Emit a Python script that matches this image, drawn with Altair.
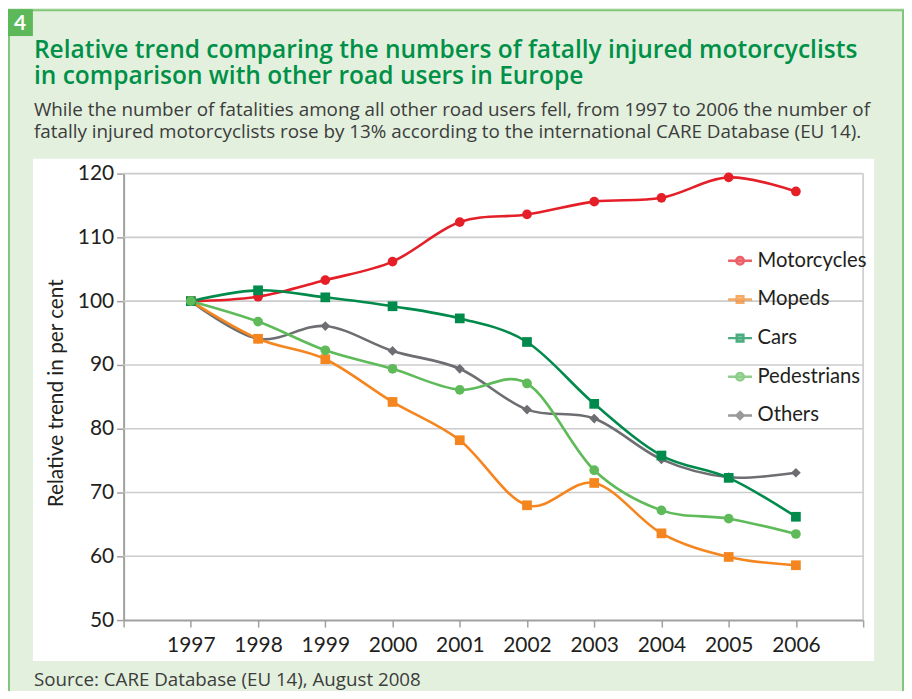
import altair as alt
import pandas as pd

# ---------------- data ----------------
years = [1997, 1998, 1999, 2000, 2001, 2002, 2003, 2004, 2005, 2006]
series_names = ["Motorcycles", "Mopeds", "Cars", "Pedestrians", "Others"]
motorcycles = [100, 100.7, 103.3, 106.2, 112.4, 113.6, 115.6, 116.2, 119.4, 117.2]
mopeds = [100, 94.1, 90.9, 84.2, 78.2, 68.0, 71.5, 63.6, 59.9, 58.6]
cars = [100, 101.7, 100.6, 99.2, 97.3, 93.6, 83.9, 75.8, 72.3, 66.2]
pedestrians = [100, 96.8, 92.3, 89.4, 86.1, 87.1, 73.5, 67.2, 65.9, 63.5]
others = [100, 94.1, 96.1, 92.2, 89.4, 83.0, 81.6, 75.2, 72.4, 73.1]
y_ticks = [50, 60, 70, 80, 90, 100, 110, 120]
x_ticks = list(range(1996, 2008))

title_lines = ["Relative trend comparing the numbers of fatally injured motorcyclists",
               "in comparison with other road users in Europe"]
subtitle_lines = ["While the number of fatalities among all other road users fell, from 1997 to 2006 the number of",
                  "fatally injured motorcyclists rose by 13% according to the international CARE Database (EU 14)."]
source_text = "Source: CARE Database (EU 14), August 2008"
badge_text = "4"
y_title = "Relative trend in per cent"

# ---------------- styles ----------------
colors = ["#e41f28", "#f5861f", "#008a4b", "#5fba59", "#6d6e72"]
shapes = ["circle", "square", "square", "circle", "diamond"]
sizes = [95, 95, 100, 95, 70]
legend_paths = [
    "M-1,0L1,0M0.32,0A0.32,0.32,0,1,1,-0.32,0A0.32,0.32,0,1,1,0.32,0Z",
    "M-1,0L1,0M-0.28,-0.28L0.28,-0.28L0.28,0.28L-0.28,0.28Z",
    "M-1,0L1,0M-0.28,-0.28L0.28,-0.28L0.28,0.28L-0.28,0.28Z",
    "M-1,0L1,0M0.32,0A0.32,0.32,0,1,1,-0.32,0A0.32,0.32,0,1,1,0.32,0Z",
    "M-1,0L1,0M0,-0.3L0.3,0L0,0.3L-0.3,0Z",
]
FONT = "Lato"
HFONT = "Open Sans"
GREEN_BG = "#e3f0de"
TEXT = "#231f20"

values = {"Motorcycles": motorcycles, "Mopeds": mopeds, "Cars": cars,
          "Pedestrians": pedestrians, "Others": others}
draw_order = ["Others", "Motorcycles", "Mopeds", "Cars", "Pedestrians"]
rows = []
for s in draw_order:
    for yr, v in zip(years, values[s]):
        rows.append({"Year": yr, "Value": v, "Series": s})
df = pd.DataFrame(rows)

W, H = 742, 448

xscale = alt.Scale(domain=[1996, 2007], nice=False, zero=False)
yscale = alt.Scale(domain=[50, 120], nice=False, zero=False)

x_axis = alt.Axis(values=x_ticks, format="d",
                  labelExpr="(datum.value < 1997 || datum.value > 2006) ? '' : datum.label",
                  grid=False, labelPadding=8)
y_axis = alt.Axis(values=y_ticks, grid=False, labelPadding=3,
                  titleX=-61, titleY=H / 2 - 4, titleAngle=270,
                  titleAlign="center", titleBaseline="alphabetic",
                  titleFontSize=20.8, titleFont=FONT, titleColor=TEXT,
                  titleFontWeight="normal")
x_enc = alt.X("Year:Q", scale=xscale, title=None, axis=x_axis)
y_enc = alt.Y("Value:Q", scale=yscale, title=y_title, axis=y_axis)

color_enc = alt.Color("Series:N", scale=alt.Scale(domain=series_names, range=colors), legend=None)

one = pd.DataFrame({"k": [0]})


def plain_rect(x1, x2, y1, y2, fill=GREEN_BG):
    return alt.Chart(one).mark_rect(fill=fill).encode(
        x=alt.value(x1), x2=alt.value(x2), y=alt.value(y1), y2=alt.value(y2))


# green surround of the white panel (chart background is white)
g_top = plain_rect(-120, 800, -170, -15)
g_bottom = plain_rect(-120, 800, 489, 600)
g_left = plain_rect(-120, -91, -20, 495)
g_right = plain_rect(753, 800, -20, 495)
frame = alt.Chart(one).mark_rect(fill=None, fillOpacity=0, stroke="#80c77b", strokeWidth=2).encode(
    x=alt.value(-115), x2=alt.value(782), y=alt.value(-164), y2=alt.value(560))
badge = plain_rect(-116, -91, -165, -138, fill="#5db85a")
badge_t = alt.Chart(one).mark_text(text=badge_text, font=FONT, fontSize=21, fontWeight="bold",
                                   color="white", align="center", baseline="alphabetic").encode(
    x=alt.value(-104), y=alt.value(-144))

t1 = alt.Chart(one).mark_text(text=title_lines[0], font=HFONT, fontSize=24.6, fontWeight=600,
                              color="#009048", align="left", baseline="alphabetic").encode(
    x=alt.value(-90), y=alt.value(-116))
t2 = alt.Chart(one).mark_text(text=title_lines[1], font=HFONT, fontSize=24.6, fontWeight=600,
                              color="#009048", align="left", baseline="alphabetic").encode(
    x=alt.value(-90), y=alt.value(-90))
s1 = alt.Chart(one).mark_text(text=subtitle_lines[0], font=HFONT, fontSize=18.9,
                              color="#3c3c3c", align="left", baseline="alphabetic").encode(
    x=alt.value(-90), y=alt.value(-58))
s2 = alt.Chart(one).mark_text(text=subtitle_lines[1], font=HFONT, fontSize=18.9,
                              color="#3c3c3c", align="left", baseline="alphabetic").encode(
    x=alt.value(-90), y=alt.value(-36))
src = alt.Chart(one).mark_text(text=source_text, font=HFONT, fontSize=18.8,
                               color="#3c3c3c", align="left", baseline="alphabetic").encode(
    x=alt.value(-90), y=alt.value(514))

# grid lines and right frame (share the axes of the main layers)
grid = alt.Chart(pd.DataFrame({"Value": y_ticks[1:]})).mark_rule(color="#cccccc", strokeWidth=1.6).encode(
    y=y_enc)
rframe = alt.Chart(pd.DataFrame({"Year": [2007]})).mark_rule(color="#cccccc", strokeWidth=1.6).encode(
    x=x_enc)

lines = alt.Chart(df).mark_line(interpolate="cardinal", tension=0, strokeWidth=2.6).encode(
    x=x_enc, y=y_enc, color=color_enc, detail="Series:N", order=alt.Order("Year:Q"))

points = alt.Chart(df).mark_point(filled=True, opacity=1).encode(
    x=x_enc, y=y_enc,
    color=color_enc,
    shape=alt.Shape("Series:N", scale=alt.Scale(domain=series_names, range=shapes), legend=None),
    size=alt.Size("Series:N", scale=alt.Scale(domain=series_names, range=sizes), legend=None),
)

legend_layer = alt.Chart(df).transform_filter("false").mark_point(filled=True, size=576).encode(
    x=x_enc, y=y_enc,
    fill=alt.Fill("Series:N", scale=alt.Scale(domain=series_names, range=colors),
                  legend=alt.Legend(title=None, orient="none", legendX=605, legendY=74,
                                    symbolSize=576, symbolStrokeWidth=2.4,
                                    labelFont=FONT, labelFontSize=20.3, labelColor=TEXT,
                                    labelOffset=4, rowPadding=14.8, padding=0,
                                    labelLimit=300)),
    stroke=alt.Stroke("Series:N", scale=alt.Scale(domain=series_names, range=colors)),
    shape=alt.Shape("Series:N", scale=alt.Scale(domain=series_names, range=legend_paths)),
)

chart = alt.layer(
    g_top, g_bottom, g_left, g_right, frame, badge, badge_t, t1, t2, s1, s2, src,
    grid, rframe, lines, points, legend_layer
).resolve_scale(
    shape="independent", fill="independent", stroke="independent", size="independent"
).properties(
    width=W, height=H,
    padding={"left": 116, "top": 165, "right": 41, "bottom": 70},
    autosize=alt.AutoSizeParams(type="none"),
    background="white",
).configure_view(stroke=None).configure_axis(
    domainColor="#a0a0a0", domainWidth=2, tickColor="#a0a0a0", tickWidth=1.5, tickSize=7,
    labelFont=FONT, labelFontSize=21, labelColor=TEXT,
)

chart.save("out.html", embed_options={"renderer": "svg", "actions": False})
